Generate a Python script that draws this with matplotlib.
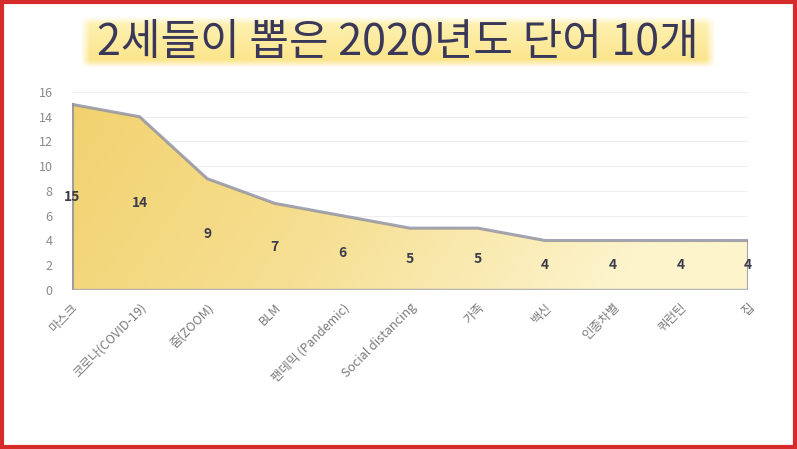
import numpy as np
import matplotlib
matplotlib.use("Agg")
import matplotlib.pyplot as plt
from matplotlib.colors import LinearSegmentedColormap
from matplotlib.patches import Rectangle

plt.rcParams['font.family'] = ['Noto Sans CJK KR', 'DejaVu Sans']

# -----------------------------
# data
# -----------------------------
title = "2세들이 뽑은 2020년도 단어 10개"
words = ["마스크", "코로나(COVID-19)", "줌(ZOOM)", "BLM", "팬데믹 (Pandemic)",
         "Social distancing", "가족", "백신", "인종차별", "쿼런틴", "집"]
counts = [15, 14, 9, 7, 6, 5, 5, 4, 4, 4, 4]
y_ticks = [0, 2, 4, 6, 8, 10, 12, 14, 16]

W, H = 797, 449
fig = plt.figure(figsize=(W / 100, H / 100), dpi=100)
fig.patch.set_facecolor("white")

# red frame round the picture
fig.patches.append(Rectangle((0.002, 0.004), 0.996, 0.992, transform=fig.transFigure,
                             fill=False, edgecolor="#d52b2b", linewidth=3))

# -----------------------------
# title box with soft yellow glow
# -----------------------------
tax = fig.add_axes([80 / W, 1 - 68 / H, 636 / W, 52 / H])
nx, ny = 400, 60
gx = np.linspace(-1, 1, nx)
gy = np.linspace(-1, 1, ny)
X, Y = np.meshgrid(gx, gy)
edge = np.clip((1 - np.abs(X)) / 0.03, 0, 1) * np.clip((1 - np.abs(Y)) / 0.3, 0, 1)
# lighter at the top, a little richer at the bottom
top = np.array([0.995, 0.95, 0.72])
bot = np.array([0.985, 0.89, 0.52])
t = (Y[..., None] + 1) / 2
col = top * (1 - t) + bot * t
img = np.ones((ny, nx, 3)) * (1 - edge[..., None]) + col * edge[..., None]
tax.imshow(img, aspect="auto", extent=[0, 1, 0, 1])
tax.set_axis_off()
tax.text(0.5, 0.48, title, ha="center", va="center", fontsize=31,
         color="#3a3858", transform=tax.transAxes)

# -----------------------------
# area chart
# -----------------------------
ax = fig.add_axes([72 / W, 1 - 290 / H, 676 / W, 198 / H])
x = np.arange(len(words))

ax.set_xlim(0, len(words) - 1)
ax.set_ylim(0, 16)

# gradient fill clipped to the area
cmap = LinearSegmentedColormap.from_list("gold", ["#f2d26e", "#f6df92", "#fdf4cc"])
grad = np.tile(np.linspace(0, 1, 300), (100, 1))
vert = np.linspace(0, 0.2, 100)[:, None]
grad = np.clip(grad + vert, 0, 1)
poly = ax.fill_between(x, counts, 0, color="none")
im = ax.imshow(grad, cmap=cmap, aspect="auto", extent=[0, len(words) - 1, 0, 16],
               origin="upper", zorder=2)
im.set_clip_path(poly.get_paths()[0], transform=ax.transData)

# shadowy outline
ax.plot(x, counts, color="#8c8fa2", lw=2.2, alpha=0.8, zorder=3)
ax.plot([0, 0], [0, counts[0]], color="#8c8fa2", lw=2.2, alpha=0.8, zorder=3)
ax.plot([x[-1], x[-1]], [0, counts[-1]], color="#8c8fa2", lw=2.2, alpha=0.8, zorder=3)
ax.plot([0, x[-1]], [0, 0], color="#a6a8b6", lw=2.5, alpha=0.8, zorder=3)

# value labels in the middle of the area
for xi, v in zip(x, counts):
    ax.text(xi, v / 2, str(v), ha="center", va="center", fontsize=10,
            fontweight="bold", color="#3b3b4c", zorder=4)

ax.set_yticks(y_ticks)
ax.set_xticks(x)
ax.set_xticklabels(words, rotation=45, ha="right", rotation_mode="anchor",
                   fontsize=9, color="#7a7a7a")
ax.tick_params(axis="y", labelsize=9, labelcolor="#8a8a8a", length=0, pad=14)
ax.tick_params(axis="x", length=0, pad=8)
ax.grid(axis="y", color="#eeeeee", lw=0.8, zorder=0)
for s in ax.spines.values():
    s.set_visible(False)

fig.savefig("out.png", dpi=100)
